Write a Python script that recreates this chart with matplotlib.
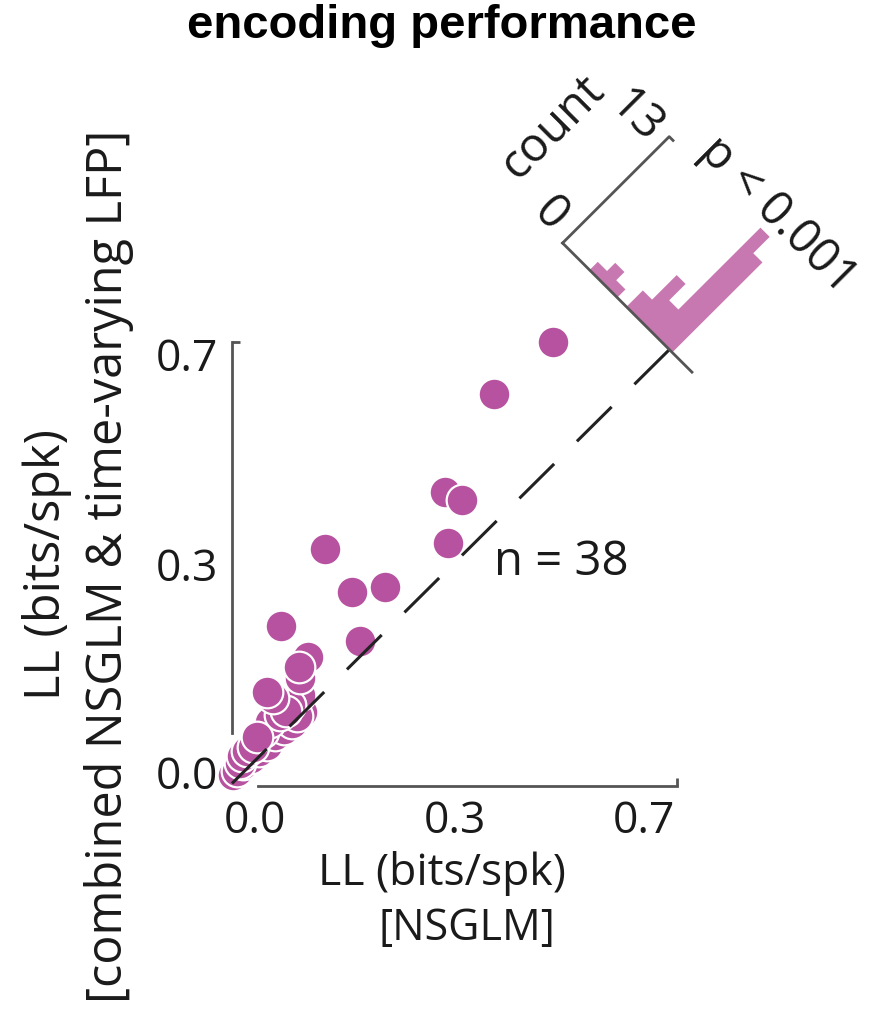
import numpy as np
import matplotlib
matplotlib.use("Agg")
import matplotlib.pyplot as plt
from matplotlib.transforms import Affine2D

# ---- data ----
# log-likelihood (bits/spk), one point per neuron (n = 38)
ll_nsglm = [0.505, 0.412, 0.335, 0.362, 0.340, 0.146, 0.189, 0.241, 0.201, 0.077,
            0.002, 0.008, 0.018, 0.030, 0.042, 0.055, 0.068, 0.082, 0.095, 0.110, 0.103,
            0.012, 0.016, 0.024, 0.033, 0.049, 0.060, 0.107, 0.092, 0.075, 0.040, 0.085,
            0.107, 0.064,
            0.113, 0.120, 0.055, 0.105]
ll_combined = [0.700, 0.618, 0.464, 0.451, 0.383, 0.374, 0.306, 0.314, 0.228, 0.252,
               0.017, 0.024, 0.034, 0.044, 0.055, 0.064, 0.080, 0.090, 0.100, 0.117, 0.110,
               0.036, 0.048, 0.055, 0.061, 0.085, 0.101, 0.143, 0.128, 0.112, 0.078, 0.118,
               0.170, 0.139,
               0.197, 0.204, 0.148, 0.188]

# histogram of (combined - NSGLM), drawn along the diagonal
hist_edges = [-0.009, 0.020, 0.049, 0.078, 0.106, 0.135, 0.164, 0.193, 0.222, 0.251]
hist_counts = [11, 13, 3, 5, 2, 0, 1, 2, 1]
count_max = 13

tick_labels = ["0.0", "0.3", "0.7"]

# ---- style ----
dot_color = "#b6529f"
hist_color = "#c878b0"
axis_color = "#555555"
text_color = "#1a1a1a"
plt.rcParams["font.family"] = ["Open Sans", "DejaVu Sans"]
fs = 32

W, H = 872, 1014
fig = plt.figure(figsize=(W / 100, H / 100), dpi=100)
ax = fig.add_axes([232 / W, (H - 786) / H, 445 / W, 444 / H])

ax.scatter(ll_nsglm, ll_combined, s=520, color=dot_color, edgecolors="white",
           linewidths=1.6, clip_on=False, zorder=3)

# unity line up to the histogram base
x0 = y0 = 0.688
ax.plot([0, x0], [0.004, y0], color="#222222", lw=2.2, dashes=(16, 10.5),
        dash_capstyle="butt", clip_on=False, zorder=4)

# rotated histogram: (difference, count) -> data coords
k = 0.01825
c45 = np.sqrt(0.5)
hist_tr = Affine2D(np.array([[-0.5, k * c45, x0],
                             [0.5, k * c45, y0],
                             [0, 0, 1]])) + ax.transData
ax.stairs(hist_counts, hist_edges, fill=True, color=hist_color, lw=0,
          transform=hist_tr, clip_on=False, zorder=2)
ax.plot([-0.071, 0.336], [0, 0], color=axis_color, lw=2, transform=hist_tr,
        clip_on=False, zorder=5)
ax.plot([0.336, 0.336, 0.324], [0, count_max, count_max], color=axis_color, lw=2,
        transform=hist_tr, clip_on=False, zorder=5)

ax.set_xlim(0, 0.7)
ax.set_ylim(0, 0.7)

# axes: trimmed spines, labels slightly inset like the original
for s in ["top", "right"]:
    ax.spines[s].set_visible(False)
for s in ["left", "bottom"]:
    ax.spines[s].set_color(axis_color)
    ax.spines[s].set_linewidth(2)
ax.spines["left"].set_bounds(0.084, 0.7)
ax.spines["bottom"].set_bounds(0.041, 0.7)

ax.set_xticks([0.036, 0.35, 0.648], tick_labels)
ax.set_yticks([0.021, 0.35, 0.68], tick_labels)
ax.set_xticks([0.35, 0.7], minor=True)
ax.set_yticks([0.35, 0.7], minor=True)
ax.tick_params(which="major", length=0, labelsize=fs, labelcolor=text_color, pad=10)
ax.tick_params(which="minor", length=6, width=2, direction="in", color=axis_color)

# axis labels
fig.text(442 / W, 1 - 873 / H, "LL (bits/spk)", fontsize=fs, color=text_color,
         ha="center", va="center")
fig.text(467 / W, 1 - 929 / H, "[NSGLM]", fontsize=fs - 1, color=text_color,
         ha="center", va="center")
fig.text(47 / W, 1 - 565 / H, "LL (bits/spk)", fontsize=35, color=text_color,
         ha="center", va="center", rotation=90)
fig.text(109 / W, 1 - 566 / H, "[combined NSGLM & time-varying LFP]", fontsize=35,
         color=text_color, ha="center", va="center", rotation=90)

# inset annotations
fig.text(553 / W, 1 - 128 / H, "count", fontsize=34, color=text_color, ha="center",
         va="center", rotation=45, rotation_mode="anchor")
fig.text(636 / W, 1 - 117 / H, "13", fontsize=34, color=text_color, ha="center",
         va="center", rotation=-45, rotation_mode="anchor")
fig.text(550 / W, 1 - 215 / H, "0", fontsize=34, color=text_color, ha="center",
         va="center", rotation=-45, rotation_mode="anchor")
fig.text(778 / W, 1 - 215 / H, "p < 0.001", fontsize=34, color=text_color, ha="center",
         va="center", rotation=-45, rotation_mode="anchor")
fig.text(494 / W, 1 - 562 / H, "n = 38", fontsize=34, color=text_color, ha="left",
         va="center")

fig.text(442 / W, 1 - 26 / H, "encoding performance", fontsize=34, fontweight="bold",
         family="Liberation Sans", ha="center", va="center", color="black")

fig.savefig("out.png", dpi=100)
